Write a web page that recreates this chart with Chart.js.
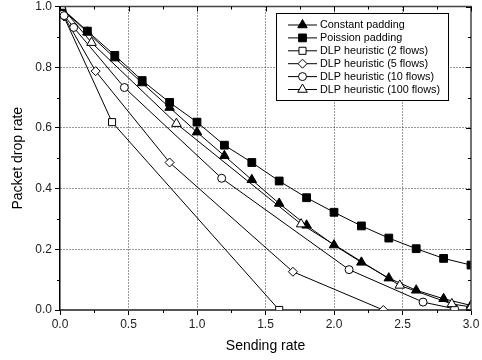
<!DOCTYPE html>
<html lang="en">
<head>
    <meta charset="UTF-8">
    <title>Packet drop rate vs sending rate</title>
    <script src="https://cdn.jsdelivr.net/npm/chart.js"></script>
    <style>
        html, body { margin: 0; padding: 0; background: #fff; }
        #wrap { position: relative; width: 482px; height: 360px; }
    </style>
</head>
<body>
    <div id="wrap">
        <canvas id="dropChart" width="482" height="360"></canvas>
    </div>

    <script>
        // values
        const seriesNames = ['Constant padding', 'Poission padding', 'DLP heuristic (2 flows)',
            'DLP heuristic (5 flows)', 'DLP heuristic (10 flows)', 'DLP heuristic (100 flows)'];

        const constantX = [0.01, 0.2, 0.4, 0.6, 0.8, 1.0, 1.2, 1.4, 1.6, 1.8, 2.0, 2.2, 2.4, 2.6, 2.8, 3.0];
        const constantY = [0.995, 0.915, 0.83, 0.748, 0.667, 0.586, 0.508, 0.429, 0.351, 0.279, 0.214, 0.157, 0.105, 0.065, 0.037, 0.015];

        const poissonX = [0.01, 0.2, 0.4, 0.6, 0.8, 1.0, 1.2, 1.4, 1.6, 1.8, 2.0, 2.2, 2.4, 2.6, 2.8, 3.0];
        const poissonY = [0.995, 0.919, 0.839, 0.756, 0.684, 0.619, 0.543, 0.486, 0.425, 0.37, 0.322, 0.277, 0.237, 0.202, 0.17, 0.148];

        const dlp2X = [0.02, 0.38, 1.6];
        const dlp2Y = [0.975, 0.619, 0.0];

        const dlp5X = [0.03, 0.26, 0.8, 1.7, 2.36];
        const dlp5Y = [0.967, 0.787, 0.486, 0.126, 0.0];

        const dlp10X = [0.03, 0.1, 0.47, 1.18, 2.11, 2.65, 2.88];
        const dlp10Y = [0.97, 0.931, 0.733, 0.434, 0.133, 0.026, 0.004];

        const dlp100X = [0.01, 0.23, 0.85, 1.76, 2.48, 2.86, 3.0];
        const dlp100Y = [1.0, 0.881, 0.614, 0.283, 0.081, 0.02, 0.01];

        const xTicks = [0, 0.5, 1.0, 1.5, 2.0, 2.5, 3.0];
        const yTicks = [0, 0.2, 0.4, 0.6, 0.8, 1.0];

        const FONT = '"Liberation Sans", Arial, sans-serif';

        function toPoints(xs, ys) {
            return xs.map((x, i) => ({ x: x, y: ys[i] }));
        }

        function makeSet(idx, xs, ys, style, filled, radius) {
            return {
                label: seriesNames[idx],
                data: toPoints(xs, ys),
                order: 5 - idx, // later series drawn on top, like the original
                borderColor: '#000',
                borderWidth: 1,
                backgroundColor: filled ? '#000' : '#fff',
                pointStyle: style,
                pointRadius: radius,
                pointBorderWidth: 1,
                pointBorderColor: '#000',
                pointBackgroundColor: filled ? '#000' : '#fff',
                tension: 0,
                fill: false
            };
        }

        const isMajorX = v => xTicks.some(t => Math.abs(t - v) < 1e-6);
        const isMajorY = v => yTicks.some(t => Math.abs(t - v) < 1e-6);

        // own marker drawing for the inset legend
        function marker(ctx, style, x, y, r, filled) {
            ctx.beginPath();
            if (style === 'triangle') {
                ctx.moveTo(x, y - r);
                ctx.lineTo(x + r * 0.866, y + r * 0.5);
                ctx.lineTo(x - r * 0.866, y + r * 0.5);
                ctx.closePath();
            } else if (style === 'rect') {
                const s = r * Math.SQRT1_2;
                ctx.rect(x - s, y - s, 2 * s, 2 * s);
            } else if (style === 'rectRot') {
                ctx.moveTo(x, y - r);
                ctx.lineTo(x + r, y);
                ctx.lineTo(x, y + r);
                ctx.lineTo(x - r, y);
                ctx.closePath();
            } else {
                ctx.arc(x, y, r, 0, Math.PI * 2);
            }
            ctx.fillStyle = filled ? '#000' : '#fff';
            ctx.fill();
            ctx.lineWidth = 1;
            ctx.strokeStyle = '#000';
            ctx.stroke();
        }

        const framePlugin = {
            id: 'frame',
            afterDraw(chart) {
                const ctx = chart.ctx;
                const a = chart.chartArea;
                const xs = chart.scales.x, ys = chart.scales.y;
                ctx.save();
                // top and right frame lines
                ctx.strokeStyle = '#444';
                ctx.lineWidth = 1.5;
                ctx.beginPath();
                ctx.moveTo(a.left, a.top);
                ctx.lineTo(a.right, a.top);
                ctx.lineTo(a.right, a.bottom);
                ctx.stroke();

                // minor ticks outside, mirrored ticks inside
                ctx.strokeStyle = '#000';
                ctx.lineWidth = 1;
                ctx.beginPath();
                for (let v = 0; v <= 3.0001; v += 0.25) {
                    const px = Math.round(xs.getPixelForValue(v)) + 0.5;
                    const major = isMajorX(v);
                    if (!major) {
                        ctx.moveTo(px, a.bottom);
                        ctx.lineTo(px, a.bottom + 3);
                    }
                    ctx.moveTo(px, a.top);
                    ctx.lineTo(px, a.top + (major ? 5 : 3));
                }
                for (let v = 0; v <= 1.0001; v += 0.1) {
                    const py = Math.round(ys.getPixelForValue(v)) + 0.5;
                    const major = isMajorY(v);
                    if (!major) {
                        ctx.moveTo(a.left, py);
                        ctx.lineTo(a.left - 3, py);
                    }
                    ctx.moveTo(a.right, py);
                    ctx.lineTo(a.right - (major ? 5 : 3), py);
                }
                ctx.stroke();

                // inset legend
                const bx = 276.5, by = 13.5, bw = 172, bh = 87;
                ctx.fillStyle = '#fff';
                ctx.fillRect(bx, by, bw, bh);
                ctx.strokeStyle = '#000';
                ctx.lineWidth = 1;
                ctx.strokeRect(bx, by, bw, bh);
                ctx.font = '10.8px ' + FONT;
                ctx.textBaseline = 'middle';
                chart.data.datasets.forEach((ds, i) => {
                    const yy = 25 + i * 12.9;
                    ctx.strokeStyle = '#000';
                    ctx.lineWidth = 1;
                    ctx.beginPath();
                    ctx.moveTo(288, yy);
                    ctx.lineTo(317, yy);
                    ctx.stroke();
                    marker(ctx, ds.pointStyle, 302.5, yy, ds.pointRadius,
                        ds.pointBackgroundColor === '#000');
                    ctx.fillStyle = '#000';
                    ctx.fillText(ds.label, 320, yy + 0.5);
                });
                ctx.restore();
            }
        };

        const ctx = document.getElementById('dropChart').getContext('2d');
        new Chart(ctx, {
            type: 'line',
            data: {
                datasets: [
                    makeSet(0, constantX, constantY, 'triangle', true, 5.5),
                    makeSet(1, poissonX, poissonY, 'rect', true, 5.5),
                    makeSet(2, dlp2X, dlp2Y, 'rect', false, 5),
                    makeSet(3, dlp5X, dlp5Y, 'rectRot', false, 4.5),
                    makeSet(4, dlp10X, dlp10Y, 'circle', false, 4),
                    makeSet(5, dlp100X, dlp100Y, 'triangle', false, 5.5)
                ]
            },
            options: {
                responsive: false,
                animation: false,
                events: [],
                layout: { padding: { top: 3, right: 11, left: 0, bottom: 0 } },
                plugins: {
                    legend: { display: false },
                    tooltip: { enabled: false }
                },
                scales: {
                    x: {
                        type: 'linear',
                        min: 0,
                        max: 3,
                        afterBuildTicks: s => { s.ticks = []; for (let i = 0; i <= 12; i++) s.ticks.push({ value: i * 0.25 }); },
                        afterFit: s => { s.height = 50; },
                        ticks: {
                            autoSkip: false,
                            maxRotation: 0,
                            padding: 2,
                            color: '#222',
                            font: { family: FONT, size: 12 },
                            callback: v => isMajorX(v) ? v.toFixed(1) : ''
                        },
                        grid: {
                            color: c => (c.tick && isMajorX(c.tick.value) && c.tick.value > 0 && c.tick.value < 3) ? '#333' : 'rgba(0,0,0,0)',
                            tickColor: c => (c.tick && isMajorX(c.tick.value)) ? '#000' : 'rgba(0,0,0,0)',
                            tickLength: 5,
                            tickBorderDash: [],
                            lineWidth: 1
                        },
                        border: { color: '#555', width: 2, dash: [1, 2] },
                        title: {
                            display: true,
                            text: 'Sending rate',
                            color: '#000',
                            font: { family: FONT, size: 14 },
                            padding: { top: 0, bottom: 5 }
                        }
                    },
                    y: {
                        type: 'linear',
                        min: 0,
                        max: 1,
                        afterBuildTicks: s => { s.ticks = []; for (let i = 0; i <= 10; i++) s.ticks.push({ value: i / 10 }); },
                        afterFit: s => { s.width = 60; },
                        ticks: {
                            autoSkip: false,
                            padding: 3,
                            color: '#222',
                            font: { family: FONT, size: 12, lineHeight: 0.3 },
                            callback: v => isMajorY(v) ? v.toFixed(1) : ''
                        },
                        grid: {
                            color: c => (c.tick && isMajorY(c.tick.value) && c.tick.value > 0.01 && c.tick.value < 0.99) ? '#333' : 'rgba(0,0,0,0)',
                            tickColor: c => (c.tick && isMajorY(c.tick.value)) ? '#000' : 'rgba(0,0,0,0)',
                            tickLength: 5,
                            tickBorderDash: [],
                            lineWidth: 1
                        },
                        border: { color: '#000', width: 1.5, dash: [1, 2] },
                        title: {
                            display: true,
                            text: 'Packet drop rate',
                            color: '#000',
                            font: { family: FONT, size: 14 },
                            padding: { top: 10, bottom: 0 }
                        }
                    }
                }
            },
            plugins: [framePlugin]
        });
    </script>
</body>
</html>
